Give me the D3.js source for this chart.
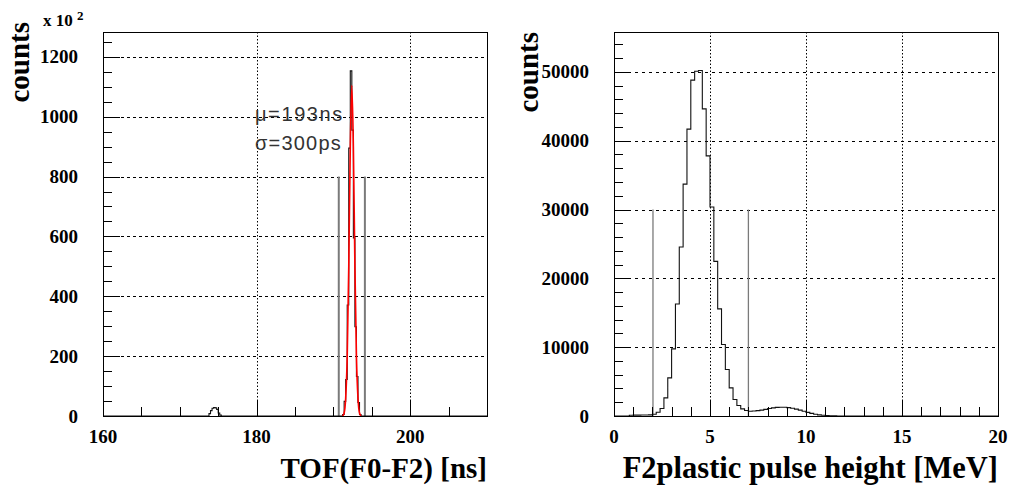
<!DOCTYPE html>
<html>
<head>
<meta charset="utf-8">
<script src="https://cdn.jsdelivr.net/npm/d3@7"></script>
<style>
  body { margin: 0; background: #fff; }
  svg { display: block; }
</style>
</head>
<body>
<script>
// ---- left panel: TOF(F0-F2), counts in units of 10^2, bins 0.2 ns
const tofBinLo = [173.8, 174.0, 174.2, 174.4, 174.6, 174.8, 175.0, 175.2,
                  191.2, 191.4, 191.6, 191.8, 192.0, 192.2, 192.4, 192.6, 192.8, 193.0, 193.2, 193.4];
const tofCounts = [8, 18, 26, 28, 27, 22, 10, 3,
                   5, 49, 122, 371, 895, 1153, 955, 595, 298, 132, 45, 5];
const tofBinWidth = 0.2;
// fitted gaussian (red)
const tofFitX = [191.2, 191.4, 191.6, 191.8, 192.0, 192.2, 192.4, 192.6, 192.8, 193.0, 193.2, 193.4, 193.6];
const tofFitY = [0, 10, 60, 200, 500, 900, 1105, 900, 500, 200, 60, 10, 0];
const tofCuts = [190.7, 194.1];
const tofCutHeight = 800;
const tofYTicks = [0, 200, 400, 600, 800, 1000, 1200];
const tofXTicks = [160, 180, 200];

// ---- right panel: F2 plastic pulse height, bins 0.2 MeV
const phBinLo = [0.8, 1.0, 1.2, 1.4, 1.6, 1.8, 2.0, 2.2, 2.4, 2.6, 2.8, 3.0, 3.2, 3.4, 3.6, 3.8,
                 4.0, 4.2, 4.4, 4.6, 4.8, 5.0, 5.2, 5.4, 5.6, 5.8, 6.0, 6.2, 6.4, 6.6, 6.8,
                 7.0, 7.2, 7.4, 7.6, 7.8, 8.0, 8.2, 8.4, 8.6, 8.8, 9.0, 9.2, 9.4, 9.6, 9.8,
                 10.0, 10.2, 10.4, 10.6, 10.8, 11.0, 11.2, 11.4, 11.6];
const phCounts = [100, 120, 130, 140, 150, 170, 250, 550, 1090, 2640, 5540, 9750, 16280, 24550, 33700, 41680,
                  48800, 50100, 50200, 44630, 37800, 30360, 22470, 15560, 10380, 6750, 4090, 2390, 1520, 1040, 800,
                  700, 720, 780, 860, 960, 1080, 1180, 1250, 1280, 1270, 1220, 1130, 1000, 850, 680,
                  520, 380, 260, 170, 110, 70, 40, 20, 10];
const phBinWidth = 0.2;
const phCuts = [2.03, 7.0];
const phCutHeight = 30000;
const phYTicks = [0, 10000, 20000, 30000, 40000, 50000];
const phXTicks = [0, 5, 10, 15, 20];

const W = 1013, H = 487;
const svg = d3.select("body").append("svg")
    .attr("width", W).attr("height", H);
svg.append("rect").attr("width", W).attr("height", H).attr("fill", "#fff");

const serif = "'Liberation Serif', 'Times New Roman', serif";
const sans = "'Liberation Sans', Arial, sans-serif";

//builds a step path out of histogram bins, drops to zero where bins are not contiguous
function stepPoints(binLo, counts, width, domain) {
    let pts = [[domain[0], 0]];
    let lastEnd = domain[0];
    binLo.forEach((lo, i) => {
        if (Math.abs(lo - lastEnd) > 1e-6) {
            pts.push([lastEnd, 0]);
            pts.push([lo, 0]);
        }
        pts.push([lo, counts[i]]);
        pts.push([lo + width, counts[i]]);
        lastEnd = lo + width;
    });
    pts.push([lastEnd, 0]);
    pts.push([domain[1], 0]);
    return pts;
}

function drawPanel(p) {
    const g = svg.append("g");
    const x = d3.scaleLinear().domain(p.xDomain).range([p.left, p.right]);
    const y = d3.scaleLinear().domain(p.yDomain).range([p.bottom, p.top]);

    // grid
    g.selectAll(".vg").data(p.xTicks.filter(v => v > p.xDomain[0] && v < p.xDomain[1]))
        .enter().append("line")
        .attr("x1", d => Math.round(x(d)) + 0.5).attr("x2", d => Math.round(x(d)) + 0.5)
        .attr("y1", p.top).attr("y2", p.bottom)
        .attr("stroke", "#000").attr("stroke-width", 1).attr("stroke-dasharray", p.vDash);
    g.selectAll(".hg").data(p.yTicks.filter(v => v > p.yDomain[0]))
        .enter().append("line")
        .attr("x1", p.left).attr("x2", p.right)
        .attr("y1", d => Math.round(y(d)) + 0.5).attr("y2", d => Math.round(y(d)) + 0.5)
        .attr("stroke", "#000").attr("stroke-width", 1).attr("stroke-dasharray", p.hDash);

    // cut lines
    g.selectAll(".cut").data(p.cuts).enter().append("line")
        .attr("x1", d => x(d)).attr("x2", d => x(d))
        .attr("y1", y(0)).attr("y2", y(p.cutHeight))
        .attr("stroke", "#7a7a7a").attr("stroke-width", p.cutWidth);

    // histogram
    const line = d3.line().x(d => x(d[0])).y(d => y(d[1]));
    g.append("path")
        .datum(stepPoints(p.binLo, p.counts, p.binWidth, p.xDomain))
        .attr("d", line)
        .attr("fill", "none").attr("stroke", "#111").attr("stroke-width", 1.1);

    if (p.fitX) {
        const fitLine = d3.line().x((d, i) => x(d)).y((d, i) => y(p.fitY[i])).curve(d3.curveMonotoneX);
        g.append("path").datum(p.fitX).attr("d", fitLine)
            .attr("fill", "none").attr("stroke", "#ff0000").attr("stroke-width", 1.6);
    }

    // frame
    g.append("rect")
        .attr("x", p.left + 0.5).attr("y", p.top + 0.5)
        .attr("width", p.right - p.left).attr("height", p.bottom - p.top)
        .attr("fill", "none").attr("stroke", "#000").attr("stroke-width", 1);

    // y ticks (inside)
    const yMinor = d3.range(p.yDomain[0], p.yDomain[1] + 1e-9, p.yMinorStep);
    g.selectAll(".ymt").data(yMinor).enter().append("line")
        .attr("x1", p.left).attr("x2", d => p.left + (p.yTicks.includes(d) ? 17 : 9))
        .attr("y1", d => Math.round(y(d)) + 0.5).attr("y2", d => Math.round(y(d)) + 0.5)
        .attr("stroke", "#000").attr("stroke-width", 1);
    // x ticks (inside)
    const xMinor = d3.range(p.xDomain[0], p.xDomain[1] + 1e-9, p.xMinorStep);
    g.selectAll(".xmt").data(xMinor).enter().append("line")
        .attr("x1", d => Math.round(x(d)) + 0.5).attr("x2", d => Math.round(x(d)) + 0.5)
        .attr("y1", p.bottom).attr("y2", d => p.bottom - (p.xTicks.includes(d) ? 16 : 9))
        .attr("stroke", "#000").attr("stroke-width", 1);

    // tick labels
    g.selectAll(".yl").data(p.yTicks).enter().append("text")
        .attr("x", p.left - 25).attr("y", d => y(d) + 6.5)
        .attr("text-anchor", "end")
        .attr("font-family", serif).attr("font-weight", "bold").attr("font-size", 19)
        .text(d => d);
    g.selectAll(".xl").data(p.xTicks).enter().append("text")
        .attr("x", d => x(d)).attr("y", p.bottom + 27)
        .attr("text-anchor", "middle")
        .attr("font-family", serif).attr("font-weight", "bold").attr("font-size", 19)
        .text(d => d);

    // axis titles
    g.append("text")
        .attr("transform", "translate(" + p.yTitleX + "," + p.yTitleEnd + ") rotate(-90)")
        .attr("text-anchor", "end")
        .attr("font-family", serif).attr("font-weight", "bold").attr("font-size", 29)
        .text("counts");
    g.append("text")
        .attr("x", p.right).attr("y", 478)
        .attr("text-anchor", "end")
        .attr("font-family", serif).attr("font-weight", "bold").attr("font-size", p.xTitleSize)
        .text(p.xTitle);
    return { x, y, g };
}

const left = drawPanel({
    left: 103, right: 487, top: 32, bottom: 416,
    xDomain: [160, 210], yDomain: [0, 1283],
    xTicks: tofXTicks, yTicks: tofYTicks, xMinorStep: 5, yMinorStep: 50,
    binLo: tofBinLo, counts: tofCounts, binWidth: tofBinWidth,
    fitX: tofFitX, fitY: tofFitY,
    cuts: tofCuts, cutHeight: tofCutHeight, cutWidth: 2,
    vDash: "1.5,2", hDash: "3,3",
    yTitleX: 29, yTitleEnd: 22, xTitle: "TOF(F0-F2) [ns]", xTitleSize: 29
});

// x 10^2 multiplier
const mult = left.g.append("text")
    .attr("x", 43).attr("y", 26)
    .attr("font-family", serif).attr("font-weight", "bold").attr("font-size", 17);
mult.append("tspan").text("x 10 ");
mult.append("tspan").attr("font-size", 13).attr("dy", -6).text("2");

// fit results
left.g.append("text")
    .attr("x", 255).attr("y", 121)
    .attr("font-family", sans).attr("font-size", 20).attr("fill", "#333")
    .attr("letter-spacing", 1.6)
    .text("\u03bc=193ns");
left.g.append("text")
    .attr("x", 255).attr("y", 150)
    .attr("font-family", sans).attr("font-size", 20).attr("fill", "#333")
    .attr("letter-spacing", 1.2)
    .text("\u03c3=300ps");

drawPanel({
    left: 614, right: 998, top: 32, bottom: 416,
    xDomain: [0, 20], yDomain: [0, 55800],
    xTicks: phXTicks, yTicks: phYTicks, xMinorStep: 1, yMinorStep: 2000,
    binLo: phBinLo, counts: phCounts, binWidth: phBinWidth,
    cuts: phCuts, cutHeight: phCutHeight, cutWidth: 1.3,
    vDash: "1.5,2", hDash: "3,4",
    yTitleX: 538, yTitleEnd: 32, xTitle: "F2plastic pulse height [MeV]", xTitleSize: 30.5
});
</script>
</body>
</html>
